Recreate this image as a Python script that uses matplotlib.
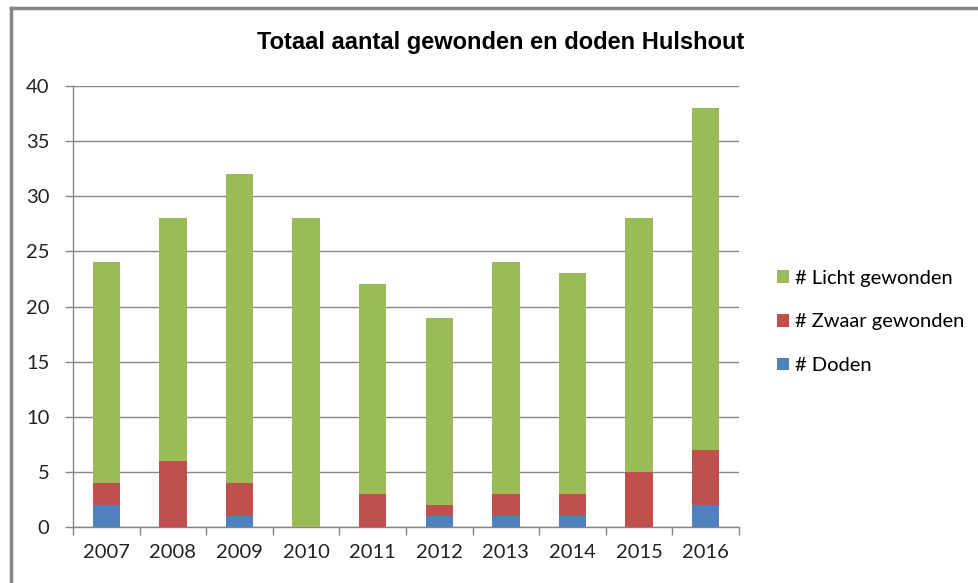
import matplotlib.pyplot as plt
import numpy as np
from matplotlib.lines import Line2D

years = ["2007", "2008", "2009", "2010", "2011", "2012", "2013", "2014", "2015", "2016"]
doden = [2, 0, 1, 0, 0, 1, 1, 1, 0, 2]
zwaar = [2, 6, 3, 0, 3, 1, 2, 2, 5, 5]
licht = [20, 22, 28, 28, 19, 17, 21, 20, 23, 31]

BLUE = "#4F81BD"
RED = "#C0504D"
GREEN = "#9BBB59"
AXIS_GREY = "#868686"

fig = plt.figure(figsize=(9.79, 5.83), dpi=100)
ax = fig.add_axes([73 / 979, 56 / 583, 666 / 979, 441 / 583])

x = np.arange(len(years))
doden = np.array(doden)
zwaar = np.array(zwaar)
licht = np.array(licht)
w = 0.41

ax.bar(x, doden, w, color=BLUE, label="# Doden", zorder=3)
ax.bar(x, zwaar, w, bottom=doden, color=RED, label="# Zwaar gewonden", zorder=3)
ax.bar(x, licht, w, bottom=doden + zwaar, color=GREEN, label="# Licht gewonden", zorder=3)

ax.set_xlim(-0.5, len(years) - 0.5)
ax.set_ylim(0, 40)
ax.set_yticks(range(0, 41, 5))
ax.yaxis.grid(True, color=AXIS_GREY, linewidth=1.0, zorder=0)
ax.set_axisbelow(True)

# category labels centred, tick marks on the boundaries
ax.set_xticks(x)
ax.set_xticklabels(years)
ax.tick_params(axis="x", length=0, pad=12)
ax.set_xticks(np.arange(-0.5, len(years), 1.0), minor=True)
ax.tick_params(axis="x", which="minor", length=6, color=AXIS_GREY, width=1.0)
ax.tick_params(axis="y", length=6, color=AXIS_GREY, width=1.0, pad=11)
for lab in ax.get_xticklabels() + ax.get_yticklabels():
    lab.set_fontsize(14.5)
    lab.set_color("#222222")
    lab.set_family("Lato")

for side in ("top", "right"):
    ax.spines[side].set_visible(False)
for side in ("left", "bottom"):
    ax.spines[side].set_color(AXIS_GREY)
    ax.spines[side].set_linewidth(1.0)

fig.text(501 / 979, 1 - 42 / 583, "Totaal aantal gewonden en doden Hulshout",
         ha="center", va="center", fontsize=17, fontweight="bold",
         family="Liberation Sans")

handles, labels = ax.get_legend_handles_labels()
leg = fig.legend(handles[::-1], labels[::-1], loc="center left",
                 bbox_to_anchor=(759 / 979, 1 - 322 / 583), frameon=False,
                 handlelength=0.6, handleheight=0.6, handletextpad=0.3,
                 labelspacing=1.32, prop={"family": "Lato", "size": 14.5})

# outer chart frame
fig.add_artist(Line2D([11 / 979, 1], [1 - 8 / 583, 1 - 8 / 583],
                      transform=fig.transFigure, color=AXIS_GREY, linewidth=2.5))
fig.add_artist(Line2D([11 / 979, 11 / 979], [0, 1 - 8 / 583],
                      transform=fig.transFigure, color=AXIS_GREY, linewidth=2.5))

fig.savefig("out.png", dpi=100)
